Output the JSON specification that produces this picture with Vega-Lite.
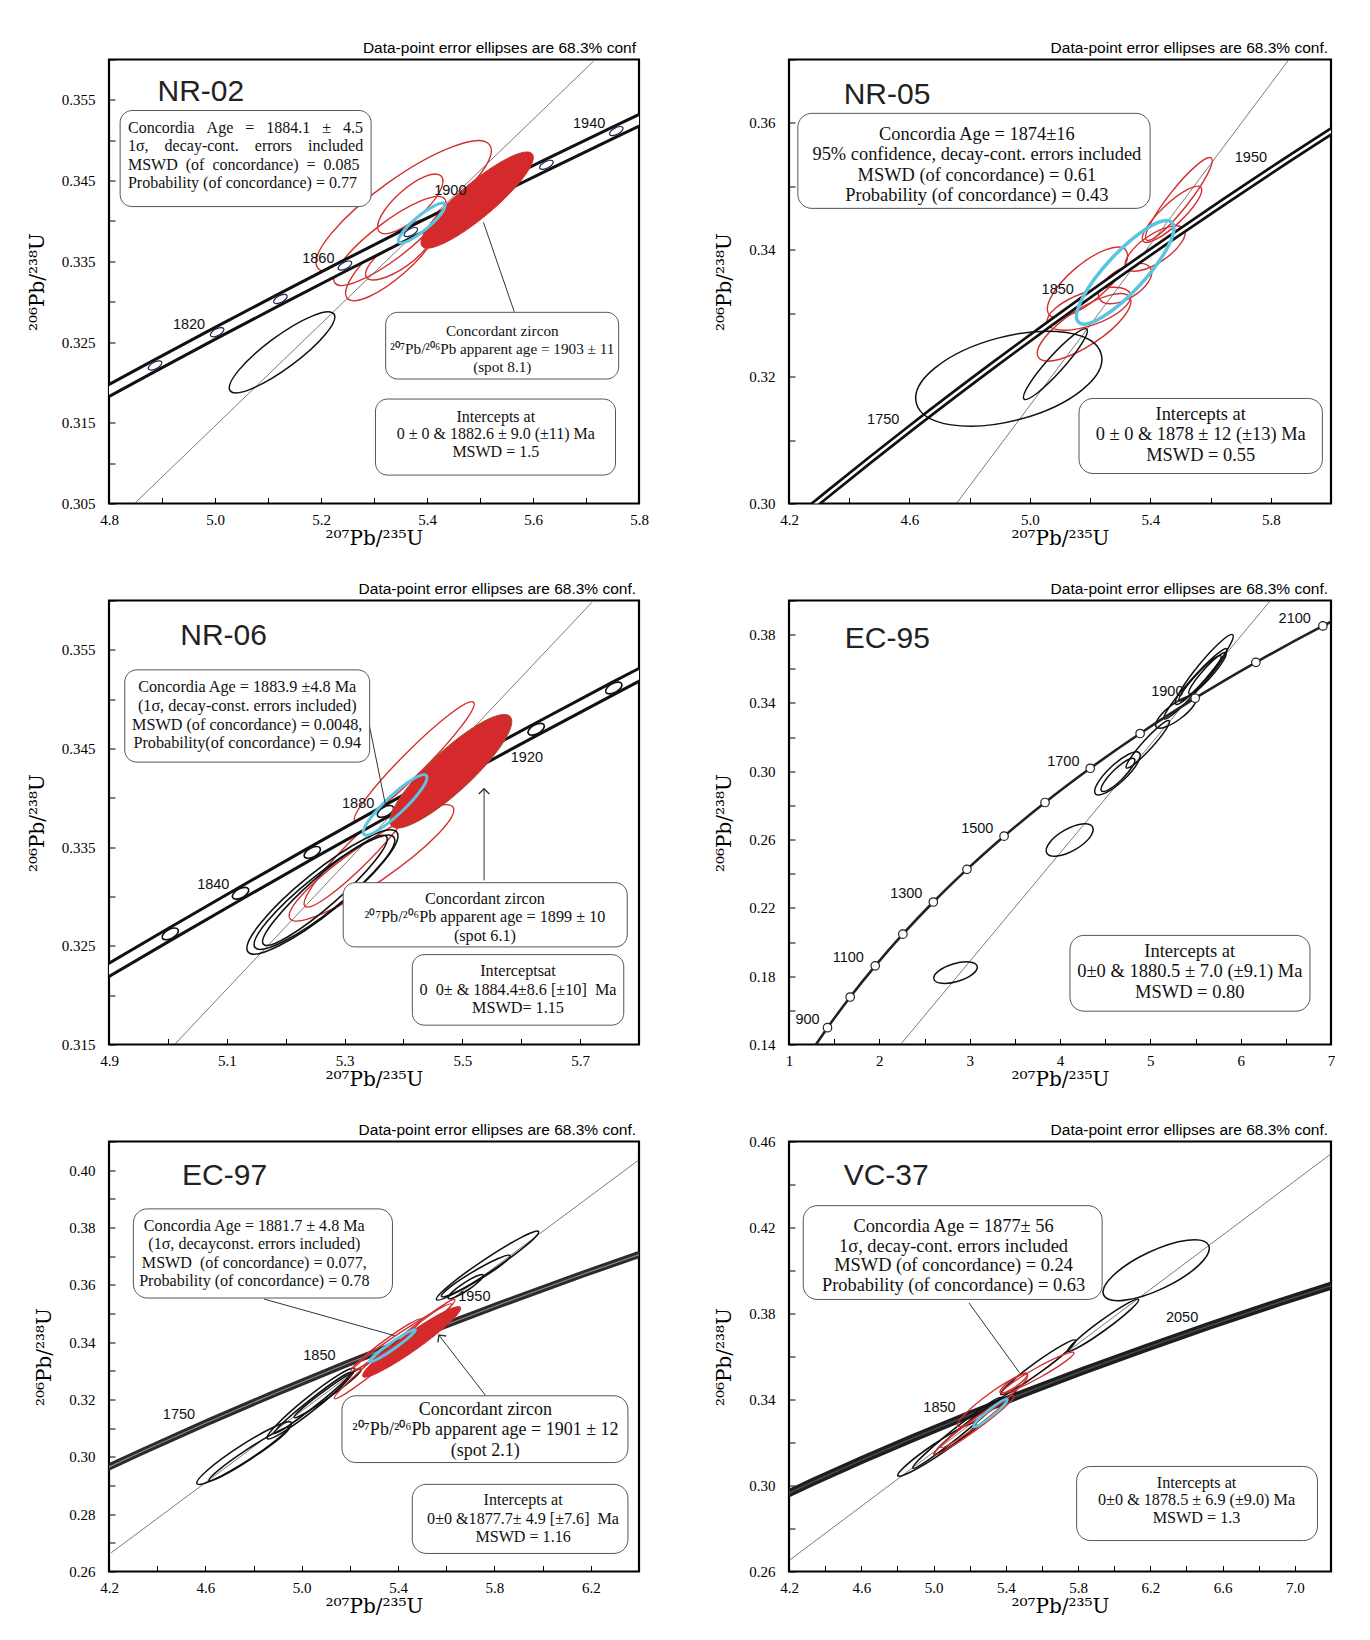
{
"$schema": "https://vega.github.io/schema/vega-lite/v6.json",
"background": "white",
"padding": {"left": 26, "top": 39.5, "right": 5, "bottom": 5},
"config": {
 "view": {"stroke": "#000", "strokeWidth": 2.2, "fill": "white"},
 "axis": {"grid": false, "domain": false, "ticks": true, "tickSize": -6, "tickColor": "#000", "tickWidth": 1, "labelFont": "Liberation Serif", "labelFontSize": 15, "labelColor": "#000", "labelOverlap": false, "labelFlush": false, "titleFont": "DejaVu Serif", "titleFontSize": 20, "titleFontWeight": "normal", "titleColor": "#000"},
 "axisX": {"labelPadding": 15, "titlePadding": 1},
 "axisY": {"labelPadding": 20, "titlePadding": 14},
 "title": {"anchor": "end", "frame": "group", "font": "Liberation Sans", "fontSize": 15.5, "fontWeight": "normal", "color": "#000", "offset": -4, "baseline": "bottom", "dx": -3}
},
"datasets": {
 "disc": [
  {"p":"NR-02","x":4.8482,"y":0.305},{"p":"NR-02","x":5.7143,"y":0.3598},
  {"p":"NR-05","x":4.7561,"y":0.30},{"p":"NR-05","x":5.8594,"y":0.36994},
  {"p":"NR-06","x":5.0113,"y":0.315},{"p":"NR-06","x":5.7202,"y":0.35982},
  {"p":"EC-95","x":2.2343,"y":0.14},{"p":"EC-95","x":6.330,"y":0.40},
  {"p":"EC-97","x":4.2092,"y":0.26653},{"p":"EC-97","x":6.402,"y":0.40376},
  {"p":"VC-37","x":4.2055,"y":0.26543},{"p":"VC-37","x":7.1978,"y":0.45411}
 ],
 "conc": [
  {"p":"NR-02","t":1780,"x":4.7721,"y":0.31801},{"p":"NR-02","t":1800,"x":4.8869,"y":0.32210},{"p":"NR-02","t":1820,"x":5.0040,"y":0.32621},{"p":"NR-02","t":1840,"x":5.1234,"y":0.33033},{"p":"NR-02","t":1860,"x":5.2452,"y":0.33447},{"p":"NR-02","t":1880,"x":5.3695,"y":0.33862},{"p":"NR-02","t":1900,"x":5.4962,"y":0.34277},{"p":"NR-02","t":1920,"x":5.6254,"y":0.34695},{"p":"NR-02","t":1940,"x":5.7572,"y":0.35113},{"p":"NR-02","t":1960,"x":5.8916,"y":0.35533},
  {"p":"NR-06","t":1780,"x":4.7721,"y":0.31801},{"p":"NR-06","t":1800,"x":4.8869,"y":0.32210},{"p":"NR-06","t":1820,"x":5.0040,"y":0.32621},{"p":"NR-06","t":1840,"x":5.1234,"y":0.33033},{"p":"NR-06","t":1860,"x":5.2452,"y":0.33447},{"p":"NR-06","t":1880,"x":5.3695,"y":0.33862},{"p":"NR-06","t":1900,"x":5.4962,"y":0.34277},{"p":"NR-06","t":1920,"x":5.6254,"y":0.34695},{"p":"NR-06","t":1940,"x":5.7572,"y":0.35113},{"p":"NR-06","t":1960,"x":5.8916,"y":0.35533},
  {"p":"NR-05","t":1650,"x":4.0784,"y":0.29170},{"p":"NR-05","t":1700,"x":4.3348,"y":0.30175},{"p":"NR-05","t":1750,"x":4.6040,"y":0.31189},{"p":"NR-05","t":1800,"x":4.8869,"y":0.32210},{"p":"NR-05","t":1850,"x":5.1840,"y":0.33240},{"p":"NR-05","t":1900,"x":5.4962,"y":0.34277},{"p":"NR-05","t":1950,"x":5.8241,"y":0.35323},{"p":"NR-05","t":2000,"x":6.1685,"y":0.36377},
  {"p":"EC-95","t":800,"x":1.1987,"y":0.13213},{"p":"EC-95","t":900,"x":1.4263,"y":0.14983},{"p":"EC-95","t":1000,"x":1.6774,"y":0.16780},{"p":"EC-95","t":1100,"x":1.9545,"y":0.18606},{"p":"EC-95","t":1200,"x":2.2603,"y":0.20460},{"p":"EC-95","t":1300,"x":2.5977,"y":0.22343},{"p":"EC-95","t":1400,"x":2.9701,"y":0.24256},{"p":"EC-95","t":1500,"x":3.3810,"y":0.26199},{"p":"EC-95","t":1600,"x":3.8344,"y":0.28172},{"p":"EC-95","t":1700,"x":4.3348,"y":0.30175},{"p":"EC-95","t":1800,"x":4.8869,"y":0.32210},{"p":"EC-95","t":1900,"x":5.4962,"y":0.34277},{"p":"EC-95","t":2000,"x":6.1685,"y":0.36377},{"p":"EC-95","t":2100,"x":6.9104,"y":0.38509},{"p":"EC-95","t":2150,"x":7.3097,"y":0.39587},
  {"p":"EC-97","t":1650,"x":4.0784,"y":0.29170},{"p":"EC-97","t":1700,"x":4.3348,"y":0.30175},{"p":"EC-97","t":1750,"x":4.6040,"y":0.31189},{"p":"EC-97","t":1800,"x":4.8869,"y":0.32210},{"p":"EC-97","t":1850,"x":5.1840,"y":0.33240},{"p":"EC-97","t":1900,"x":5.4962,"y":0.34277},{"p":"EC-97","t":1950,"x":5.8241,"y":0.35323},{"p":"EC-97","t":2000,"x":6.1685,"y":0.36377},{"p":"EC-97","t":2050,"x":6.5304,"y":0.37438},
  {"p":"VC-37","t":1650,"x":4.0784,"y":0.29170},{"p":"VC-37","t":1700,"x":4.3348,"y":0.30175},{"p":"VC-37","t":1750,"x":4.6040,"y":0.31189},{"p":"VC-37","t":1800,"x":4.8869,"y":0.32210},{"p":"VC-37","t":1850,"x":5.1840,"y":0.33240},{"p":"VC-37","t":1900,"x":5.4962,"y":0.34277},{"p":"VC-37","t":1950,"x":5.8241,"y":0.35323},{"p":"VC-37","t":2000,"x":6.1685,"y":0.36377},{"p":"VC-37","t":2050,"x":6.5304,"y":0.37438},{"p":"VC-37","t":2100,"x":6.9104,"y":0.38509},{"p":"VC-37","t":2150,"x":7.3097,"y":0.39587}
 ],
 "ell": [
  {"p":"NR-02","e":"a1","k":"b","i":0,"x":5.0286,"y":0.31897},{"p":"NR-02","e":"a1","k":"b","i":1,"x":5.1444,"y":0.32213},{"p":"NR-02","e":"a1","k":"b","i":2,"x":5.2244,"y":0.32847},{"p":"NR-02","e":"a1","k":"b","i":3,"x":5.1086,"y":0.32532},
  {"p":"NR-02","e":"a2","k":"r","i":0,"x":5.1937,"y":0.33418},{"p":"NR-02","e":"a2","k":"r","i":1,"x":5.3869,"y":0.33894},{"p":"NR-02","e":"a2","k":"r","i":2,"x":5.5182,"y":0.34942},{"p":"NR-02","e":"a2","k":"r","i":3,"x":5.3249,"y":0.34466},
  {"p":"NR-02","e":"a3","k":"r","i":0,"x":5.3098,"y":0.33868},{"p":"NR-02","e":"a3","k":"r","i":1,"x":5.3872,"y":0.34072},{"p":"NR-02","e":"a3","k":"r","i":2,"x":5.4272,"y":0.34554},{"p":"NR-02","e":"a3","k":"r","i":3,"x":5.3497,"y":0.34350},
  {"p":"NR-02","e":"a4","k":"r","i":0,"x":5.2263,"y":0.33232},{"p":"NR-02","e":"a4","k":"r","i":1,"x":5.3508,"y":0.33572},{"p":"NR-02","e":"a4","k":"r","i":2,"x":5.4334,"y":0.34273},{"p":"NR-02","e":"a4","k":"r","i":3,"x":5.3089,"y":0.33933},
  {"p":"NR-02","e":"a5","k":"r","i":0,"x":5.2495,"y":0.33042},{"p":"NR-02","e":"a5","k":"r","i":1,"x":5.3563,"y":0.33351},{"p":"NR-02","e":"a5","k":"r","i":2,"x":5.4178,"y":0.34004},{"p":"NR-02","e":"a5","k":"r","i":3,"x":5.3110,"y":0.33694},
  {"p":"NR-02","e":"a6","k":"r","i":0,"x":5.2859,"y":0.33302},{"p":"NR-02","e":"a6","k":"r","i":1,"x":5.3598,"y":0.33434},{"p":"NR-02","e":"a6","k":"r","i":2,"x":5.4052,"y":0.33839},{"p":"NR-02","e":"a6","k":"r","i":3,"x":5.3314,"y":0.33707},
  {"p":"NR-02","e":"a7","k":"c","i":0,"x":5.3468,"y":0.33736},{"p":"NR-02","e":"a7","k":"c","i":1,"x":5.3990,"y":0.33904},{"p":"NR-02","e":"a7","k":"c","i":2,"x":5.4334,"y":0.34211},{"p":"NR-02","e":"a7","k":"c","i":3,"x":5.3813,"y":0.34043},
  {"p":"NR-02","e":"a8","k":"f","i":0,"x":5.3908,"y":0.33686},{"p":"NR-02","e":"a8","k":"f","i":1,"x":5.5156,"y":0.34094},{"p":"NR-02","e":"a8","k":"f","i":2,"x":5.5985,"y":0.34831},{"p":"NR-02","e":"a8","k":"f","i":3,"x":5.4737,"y":0.34423},

  {"p":"NR-05","e":"b1","k":"b","i":0,"x":4.6231,"y":0.31579},{"p":"NR-05","e":"b1","k":"b","i":1,"x":4.9664,"y":0.31327},{"p":"NR-05","e":"b1","k":"b","i":2,"x":5.2368,"y":0.32355},{"p":"NR-05","e":"b1","k":"b","i":3,"x":4.8935,"y":0.32607},
  {"p":"NR-05","e":"b2","k":"b","i":0,"x":4.9806,"y":0.31646},{"p":"NR-05","e":"b2","k":"b","i":1,"x":5.1056,"y":0.32111},{"p":"NR-05","e":"b2","k":"b","i":2,"x":5.1890,"y":0.32750},{"p":"NR-05","e":"b2","k":"b","i":3,"x":5.0640,"y":0.32285},
  {"p":"NR-05","e":"b3","k":"r","i":0,"x":5.3873,"y":0.34154},{"p":"NR-05","e":"b3","k":"r","i":1,"x":5.5211,"y":0.34703},{"p":"NR-05","e":"b3","k":"r","i":2,"x":5.6023,"y":0.35447},{"p":"NR-05","e":"b3","k":"r","i":3,"x":5.4685,"y":0.34898},
  {"p":"NR-05","e":"b4","k":"r","i":0,"x":5.3761,"y":0.34133},{"p":"NR-05","e":"b4","k":"r","i":1,"x":5.4963,"y":0.34436},{"p":"NR-05","e":"b4","k":"r","i":2,"x":5.5677,"y":0.34985},{"p":"NR-05","e":"b4","k":"r","i":3,"x":5.4475,"y":0.34681},
  {"p":"NR-05","e":"b5","k":"r","i":0,"x":5.3204,"y":0.33712},{"p":"NR-05","e":"b5","k":"r","i":1,"x":5.4425,"y":0.33837},{"p":"NR-05","e":"b5","k":"r","i":2,"x":5.5120,"y":0.34327},{"p":"NR-05","e":"b5","k":"r","i":3,"x":5.3899,"y":0.34202},
  {"p":"NR-05","e":"b6","k":"r","i":0,"x":5.0642,"y":0.32976},{"p":"NR-05","e":"b6","k":"r","i":1,"x":5.2308,"y":0.33266},{"p":"NR-05","e":"b6","k":"r","i":2,"x":5.3182,"y":0.33996},{"p":"NR-05","e":"b6","k":"r","i":3,"x":5.1515,"y":0.33707},
  {"p":"NR-05","e":"b7","k":"r","i":0,"x":5.2313,"y":0.33223},{"p":"NR-05","e":"b7","k":"r","i":1,"x":5.3421,"y":0.33266},{"p":"NR-05","e":"b7","k":"r","i":2,"x":5.4006,"y":0.33712},{"p":"NR-05","e":"b7","k":"r","i":3,"x":5.2898,"y":0.33670},
  {"p":"NR-05","e":"b8","k":"r","i":0,"x":5.0586,"y":0.32840},{"p":"NR-05","e":"b8","k":"r","i":1,"x":5.2149,"y":0.32823},{"p":"NR-05","e":"b8","k":"r","i":2,"x":5.3338,"y":0.33302},{"p":"NR-05","e":"b8","k":"r","i":3,"x":5.1775,"y":0.33319},
  {"p":"NR-05","e":"b9","k":"r","i":0,"x":5.0285,"y":0.32303},{"p":"NR-05","e":"b9","k":"r","i":1,"x":5.2138,"y":0.32535},{"p":"NR-05","e":"b9","k":"r","i":2,"x":5.3315,"y":0.33250},{"p":"NR-05","e":"b9","k":"r","i":3,"x":5.1463,"y":0.33018},
  {"p":"NR-05","e":"b10","k":"c","i":0,"x":5.1622,"y":0.32855},{"p":"NR-05","e":"b10","k":"c","i":1,"x":5.3640,"y":0.33437},{"p":"NR-05","e":"b10","k":"c","i":2,"x":5.4708,"y":0.34433},{"p":"NR-05","e":"b10","k":"c","i":3,"x":5.2691,"y":0.33851},

  {"p":"NR-06","e":"c1","k":"r","i":0,"x":5.3175,"y":0.33765},{"p":"NR-06","e":"c1","k":"r","i":1,"x":5.4323,"y":0.34284},{"p":"NR-06","e":"c1","k":"r","i":2,"x":5.5191,"y":0.34969},{"p":"NR-06","e":"c1","k":"r","i":3,"x":5.4044,"y":0.34450},
  {"p":"NR-06","e":"c2","k":"r","i":0,"x":5.2074,"y":0.32776},{"p":"NR-06","e":"c2","k":"r","i":1,"x":5.3649,"y":0.33174},{"p":"NR-06","e":"c2","k":"r","i":2,"x":5.4841,"y":0.33906},{"p":"NR-06","e":"c2","k":"r","i":3,"x":5.3266,"y":0.33508},
  {"p":"NR-06","e":"c3","k":"r","i":0,"x":5.2328,"y":0.32901},{"p":"NR-06","e":"c3","k":"r","i":1,"x":5.3406,"y":0.33359},{"p":"NR-06","e":"c3","k":"r","i":2,"x":5.4163,"y":0.34008},{"p":"NR-06","e":"c3","k":"r","i":3,"x":5.3085,"y":0.33549},
  {"p":"NR-06","e":"c4","k":"b","i":0,"x":5.1362,"y":0.32438},{"p":"NR-06","e":"c4","k":"b","i":1,"x":5.2844,"y":0.32883},{"p":"NR-06","e":"c4","k":"b","i":2,"x":5.3887,"y":0.33653},{"p":"NR-06","e":"c4","k":"b","i":3,"x":5.2405,"y":0.33209},
  {"p":"NR-06","e":"c5","k":"b","i":0,"x":5.1481,"y":0.32482},{"p":"NR-06","e":"c5","k":"b","i":1,"x":5.2852,"y":0.32897},{"p":"NR-06","e":"c5","k":"b","i":2,"x":5.3836,"y":0.33603},{"p":"NR-06","e":"c5","k":"b","i":3,"x":5.2464,"y":0.33187},
  {"p":"NR-06","e":"c6","k":"b","i":0,"x":5.1622,"y":0.32516},{"p":"NR-06","e":"c6","k":"b","i":1,"x":5.2834,"y":0.32948},{"p":"NR-06","e":"c6","k":"b","i":2,"x":5.3711,"y":0.33609},{"p":"NR-06","e":"c6","k":"b","i":3,"x":5.2499,"y":0.33177},
  {"p":"NR-06","e":"c7","k":"f","i":0,"x":5.3796,"y":0.33714},{"p":"NR-06","e":"c7","k":"f","i":1,"x":5.5042,"y":0.34115},{"p":"NR-06","e":"c7","k":"f","i":2,"x":5.5812,"y":0.34824},{"p":"NR-06","e":"c7","k":"f","i":3,"x":5.4567,"y":0.34423},
  {"p":"NR-06","e":"c8","k":"c","i":0,"x":5.3327,"y":0.33630},{"p":"NR-06","e":"c8","k":"c","i":1,"x":5.3967,"y":0.33859},{"p":"NR-06","e":"c8","k":"c","i":2,"x":5.4389,"y":0.34227},{"p":"NR-06","e":"c8","k":"c","i":3,"x":5.3750,"y":0.33997},

  {"p":"EC-95","e":"d1","k":"b","i":0,"x":2.604,"y":0.1783},{"p":"EC-95","e":"d1","k":"b","i":1,"x":2.872,"y":0.1770},{"p":"EC-95","e":"d1","k":"b","i":2,"x":3.083,"y":0.1859},{"p":"EC-95","e":"d1","k":"b","i":3,"x":2.816,"y":0.1871},
  {"p":"EC-95","e":"d2","k":"b","i":0,"x":3.854,"y":0.2521},{"p":"EC-95","e":"d2","k":"b","i":1,"x":4.167,"y":0.2541},{"p":"EC-95","e":"d2","k":"b","i":2,"x":4.360,"y":0.2674},{"p":"EC-95","e":"d2","k":"b","i":3,"x":4.048,"y":0.2654},
  {"p":"EC-95","e":"d3","k":"b","i":0,"x":4.3935,"y":0.28674},{"p":"EC-95","e":"d3","k":"b","i":1,"x":4.7030,"y":0.29488},{"p":"EC-95","e":"d3","k":"b","i":2,"x":4.8780,"y":0.31077},{"p":"EC-95","e":"d3","k":"b","i":3,"x":4.5686,"y":0.30262},
  {"p":"EC-95","e":"d4","k":"b","i":0,"x":5.2821,"y":0.33932},{"p":"EC-95","e":"d4","k":"b","i":1,"x":5.6570,"y":0.35702},{"p":"EC-95","e":"d4","k":"b","i":2,"x":5.9130,"y":0.37995},{"p":"EC-95","e":"d4","k":"b","i":3,"x":5.5381,"y":0.36224},
  {"p":"EC-95","e":"d5","k":"b","i":0,"x":5.1533,"y":0.33070},{"p":"EC-95","e":"d5","k":"b","i":1,"x":5.5492,"y":0.34888},{"p":"EC-95","e":"d5","k":"b","i":2,"x":5.8469,"y":0.37174},{"p":"EC-95","e":"d5","k":"b","i":3,"x":5.4510,"y":0.35357},
  {"p":"EC-95","e":"d6","k":"b","i":0,"x":5.3184,"y":0.34126},{"p":"EC-95","e":"d6","k":"b","i":1,"x":5.5898,"y":0.35245},{"p":"EC-95","e":"d6","k":"b","i":2,"x":5.7809,"y":0.36764},{"p":"EC-95","e":"d6","k":"b","i":3,"x":5.5094,"y":0.35644},
  {"p":"EC-95","e":"d7","k":"b","i":0,"x":5.0652,"y":0.32601},{"p":"EC-95","e":"d7","k":"b","i":1,"x":5.3383,"y":0.33105},{"p":"EC-95","e":"d7","k":"b","i":2,"x":5.5056,"y":0.34360},{"p":"EC-95","e":"d7","k":"b","i":3,"x":5.2326,"y":0.33856},
  {"p":"EC-95","e":"d8","k":"b","i":0,"x":4.7349,"y":0.30198},{"p":"EC-95","e":"d8","k":"b","i":1,"x":5.0122,"y":0.31377},{"p":"EC-95","e":"d8","k":"b","i":2,"x":5.2083,"y":0.32953},{"p":"EC-95","e":"d8","k":"b","i":3,"x":4.9310,"y":0.31774},
  {"p":"EC-95","e":"d9","k":"b","i":0,"x":5.4285,"y":0.34536},{"p":"EC-95","e":"d9","k":"b","i":1,"x":5.6731,"y":0.35541},{"p":"EC-95","e":"d9","k":"b","i":2,"x":5.8359,"y":0.36940},{"p":"EC-95","e":"d9","k":"b","i":3,"x":5.5914,"y":0.35934},
  {"p":"EC-95","e":"d10","k":"b","i":0,"x":4.4596,"y":0.28849},{"p":"EC-95","e":"d10","k":"b","i":1,"x":4.6871,"y":0.29535},{"p":"EC-95","e":"d10","k":"b","i":2,"x":4.8230,"y":0.30725},{"p":"EC-95","e":"d10","k":"b","i":3,"x":4.5953,"y":0.30040},

  {"p":"EC-97","e":"f1","k":"b","i":0,"x":5.5593,"y":0.35483},{"p":"EC-97","e":"f1","k":"b","i":1,"x":5.7865,"y":0.36477},{"p":"EC-97","e":"f1","k":"b","i":2,"x":5.9828,"y":0.37859},{"p":"EC-97","e":"f1","k":"b","i":3,"x":5.7556,"y":0.36864},
  {"p":"EC-97","e":"f2","k":"b","i":0,"x":5.5802,"y":0.35599},{"p":"EC-97","e":"f2","k":"b","i":1,"x":5.7331,"y":0.36159},{"p":"EC-97","e":"f2","k":"b","i":2,"x":5.8648,"y":0.37020},{"p":"EC-97","e":"f2","k":"b","i":3,"x":5.7118,"y":0.36460},
  {"p":"EC-97","e":"f3","k":"b","i":0,"x":5.6079,"y":0.35529},{"p":"EC-97","e":"f3","k":"b","i":1,"x":5.6901,"y":0.35820},{"p":"EC-97","e":"f3","k":"b","i":2,"x":5.7537,"y":0.36345},{"p":"EC-97","e":"f3","k":"b","i":3,"x":5.6715,"y":0.36053},
  {"p":"EC-97","e":"f4","k":"b","i":0,"x":4.5653,"y":0.29064},{"p":"EC-97","e":"f4","k":"b","i":1,"x":4.7792,"y":0.29896},{"p":"EC-97","e":"f4","k":"b","i":2,"x":4.9568,"y":0.31196},{"p":"EC-97","e":"f4","k":"b","i":3,"x":4.7429,"y":0.30364},
  {"p":"EC-97","e":"f5","k":"b","i":0,"x":4.6153,"y":0.29169},{"p":"EC-97","e":"f5","k":"b","i":1,"x":4.7934,"y":0.29950},{"p":"EC-97","e":"f5","k":"b","i":2,"x":4.9485,"y":0.31021},{"p":"EC-97","e":"f5","k":"b","i":3,"x":4.7704,"y":0.30241},
  {"p":"EC-97","e":"f6","k":"b","i":0,"x":4.8568,"y":0.30637},{"p":"EC-97","e":"f6","k":"b","i":1,"x":5.0563,"y":0.31669},{"p":"EC-97","e":"f6","k":"b","i":2,"x":5.2192,"y":0.33083},{"p":"EC-97","e":"f6","k":"b","i":3,"x":5.0197,"y":0.32051},
  {"p":"EC-97","e":"f7","k":"b","i":0,"x":4.8860,"y":0.30823},{"p":"EC-97","e":"f7","k":"b","i":1,"x":5.0561,"y":0.31774},{"p":"EC-97","e":"f7","k":"b","i":2,"x":5.2053,"y":0.32943},{"p":"EC-97","e":"f7","k":"b","i":3,"x":5.0354,"y":0.31993},
  {"p":"EC-97","e":"f8","k":"b","i":0,"x":4.9693,"y":0.31371},{"p":"EC-97","e":"f8","k":"b","i":1,"x":5.1178,"y":0.32102},{"p":"EC-97","e":"f8","k":"b","i":2,"x":5.2470,"y":0.33060},{"p":"EC-97","e":"f8","k":"b","i":3,"x":5.0984,"y":0.32328},
  {"p":"EC-97","e":"f9","k":"r","i":0,"x":5.1359,"y":0.32035},{"p":"EC-97","e":"f9","k":"r","i":1,"x":5.4016,"y":0.33597},{"p":"EC-97","e":"f9","k":"r","i":2,"x":5.6357,"y":0.35483},{"p":"EC-97","e":"f9","k":"r","i":3,"x":5.3700,"y":0.33921},
  {"p":"EC-97","e":"f10","k":"r","i":0,"x":5.2164,"y":0.33060},{"p":"EC-97","e":"f10","k":"r","i":1,"x":5.4299,"y":0.34060},{"p":"EC-97","e":"f10","k":"r","i":2,"x":5.6218,"y":0.35331},{"p":"EC-97","e":"f10","k":"r","i":3,"x":5.4083,"y":0.34331},
  {"p":"EC-97","e":"f11","k":"r","i":0,"x":5.2053,"y":0.33002},{"p":"EC-97","e":"f11","k":"r","i":1,"x":5.3626,"y":0.33773},{"p":"EC-97","e":"f11","k":"r","i":2,"x":5.4969,"y":0.34807},{"p":"EC-97","e":"f11","k":"r","i":3,"x":5.3396,"y":0.34036},
  {"p":"EC-97","e":"f12","k":"f","i":0,"x":5.2539,"y":0.32804},{"p":"EC-97","e":"f12","k":"f","i":1,"x":5.4774,"y":0.33762},{"p":"EC-97","e":"f12","k":"f","i":2,"x":5.6593,"y":0.35215},{"p":"EC-97","e":"f12","k":"f","i":3,"x":5.4358,"y":0.34256},
  {"p":"EC-97","e":"f13","k":"c","i":0,"x":5.2817,"y":0.33316},{"p":"EC-97","e":"f13","k":"c","i":1,"x":5.3847,"y":0.33780},{"p":"EC-97","e":"f13","k":"c","i":2,"x":5.4719,"y":0.34434},{"p":"EC-97","e":"f13","k":"c","i":3,"x":5.3689,"y":0.33971},

  {"p":"VC-37","e":"g1","k":"b","i":0,"x":5.9420,"y":0.38854},{"p":"VC-37","e":"g1","k":"b","i":1,"x":6.2781,"y":0.39204},{"p":"VC-37","e":"g1","k":"b","i":2,"x":6.5226,"y":0.41174},{"p":"VC-37","e":"g1","k":"b","i":3,"x":6.1865,"y":0.40825},
  {"p":"VC-37","e":"g2","k":"b","i":0,"x":5.7435,"y":0.36256},{"p":"VC-37","e":"g2","k":"b","i":1,"x":5.9554,"y":0.37267},{"p":"VC-37","e":"g2","k":"b","i":2,"x":6.1349,"y":0.38653},{"p":"VC-37","e":"g2","k":"b","i":3,"x":5.9230,"y":0.37641},
  {"p":"VC-37","e":"g3","k":"b","i":0,"x":5.3723,"y":0.34245},{"p":"VC-37","e":"g3","k":"b","i":1,"x":5.5963,"y":0.35297},{"p":"VC-37","e":"g3","k":"b","i":2,"x":5.7858,"y":0.36751},{"p":"VC-37","e":"g3","k":"b","i":3,"x":5.5620,"y":0.35699},
  {"p":"VC-37","e":"g4","k":"b","i":0,"x":4.8027,"y":0.30455},{"p":"VC-37","e":"g4","k":"b","i":1,"x":5.0370,"y":0.31447},{"p":"VC-37","e":"g4","k":"b","i":2,"x":5.2345,"y":0.32899},{"p":"VC-37","e":"g4","k":"b","i":3,"x":5.0002,"y":0.31907},
  {"p":"VC-37","e":"g5","k":"b","i":0,"x":4.8854,"y":0.30811},{"p":"VC-37","e":"g5","k":"b","i":1,"x":5.1448,"y":0.32282},{"p":"VC-37","e":"g5","k":"b","i":2,"x":5.3723,"y":0.34090},{"p":"VC-37","e":"g5","k":"b","i":3,"x":5.1129,"y":0.32619},
  {"p":"VC-37","e":"g6","k":"b","i":0,"x":5.0048,"y":0.31461},{"p":"VC-37","e":"g6","k":"b","i":1,"x":5.2468,"y":0.32746},{"p":"VC-37","e":"g6","k":"b","i":2,"x":5.4550,"y":0.34399},{"p":"VC-37","e":"g6","k":"b","i":3,"x":5.2130,"y":0.33114},
  {"p":"VC-37","e":"g7","k":"r","i":0,"x":5.3815,"y":0.34322},{"p":"VC-37","e":"g7","k":"r","i":1,"x":5.5925,"y":0.35047},{"p":"VC-37","e":"g7","k":"r","i":2,"x":5.7766,"y":0.36178},{"p":"VC-37","e":"g7","k":"r","i":3,"x":5.5656,"y":0.35453},
  {"p":"VC-37","e":"g8","k":"r","i":0,"x":5.3687,"y":0.34322},{"p":"VC-37","e":"g8","k":"r","i":1,"x":5.4567,"y":0.34610},{"p":"VC-37","e":"g8","k":"r","i":2,"x":5.5193,"y":0.35204},{"p":"VC-37","e":"g8","k":"r","i":3,"x":5.4315,"y":0.34914},
  {"p":"VC-37","e":"g9","k":"r","i":0,"x":5.1334,"y":0.32775},{"p":"VC-37","e":"g9","k":"r","i":1,"x":5.3503,"y":0.33683},{"p":"VC-37","e":"g9","k":"r","i":2,"x":5.5193,"y":0.35142},{"p":"VC-37","e":"g9","k":"r","i":3,"x":5.3025,"y":0.34234},
  {"p":"VC-37","e":"g10","k":"r","i":0,"x":5.0011,"y":0.31430},{"p":"VC-37","e":"g10","k":"r","i":1,"x":5.2398,"y":0.32611},{"p":"VC-37","e":"g10","k":"r","i":2,"x":5.4458,"y":0.34167},{"p":"VC-37","e":"g10","k":"r","i":3,"x":5.2071,"y":0.32986},
  {"p":"VC-37","e":"g11","k":"r","i":0,"x":5.0416,"y":0.31770},{"p":"VC-37","e":"g11","k":"r","i":1,"x":5.2292,"y":0.32687},{"p":"VC-37","e":"g11","k":"r","i":2,"x":5.3907,"y":0.33904},{"p":"VC-37","e":"g11","k":"r","i":3,"x":5.2033,"y":0.32987},
  {"p":"VC-37","e":"g12","k":"c","i":0,"x":5.2216,"y":0.32729},{"p":"VC-37","e":"g12","k":"c","i":1,"x":5.3269,"y":0.33250},{"p":"VC-37","e":"g12","k":"c","i":2,"x":5.4091,"y":0.34013},{"p":"VC-37","e":"g12","k":"c","i":3,"x":5.3038,"y":0.33491}
 ],
 "alab": [
  {"p":"NR-02","t":"1820","x":4.951,"y":0.32715},{"p":"NR-02","t":"1860","x":5.195,"y":0.3353},{"p":"NR-02","t":"1900","x":5.444,"y":0.34376},{"p":"NR-02","t":"1940","x":5.706,"y":0.35203},
  {"p":"NR-05","t":"1950","x":5.734,"y":0.35442},{"p":"NR-05","t":"1850","x":5.0924,"y":0.33366},{"p":"NR-05","t":"1750","x":4.5128,"y":0.31315},
  {"p":"NR-06","t":"1840","x":5.0771,"y":0.33114},{"p":"NR-06","t":"1880","x":5.3231,"y":0.33940},{"p":"NR-06","t":"1920","x":5.6096,"y":0.34403},
  {"p":"EC-95","t":"900","x":1.205,"y":0.1541},{"p":"EC-95","t":"1100","x":1.656,"y":0.1904},{"p":"EC-95","t":"1300","x":2.298,"y":0.2279},{"p":"EC-95","t":"1500","x":3.084,"y":0.2660},{"p":"EC-95","t":"1700","x":4.037,"y":0.3057},{"p":"EC-95","t":"1900","x":5.188,"y":0.3467},{"p":"EC-95","t":"2100","x":6.598,"y":0.3892},
  {"p":"EC-97","t":"1750","x":4.4903,"y":0.31451},{"p":"EC-97","t":"1850","x":5.0734,"y":0.33502},{"p":"EC-97","t":"1950","x":5.7165,"y":0.35589},
  {"p":"VC-37","t":"1850","x":5.033,"y":0.33624},{"p":"VC-37","t":"2050","x":6.3759,"y":0.3780}
 ],
 "plab": [
  {"p":"NR-02","n":"NR-02","x":4.8915,"y":0.35595},{"p":"NR-05","n":"NR-05","x":4.3815,"y":0.36443},{"p":"NR-06","n":"NR-06","x":5.021,"y":0.35641},
  {"p":"EC-95","n":"EC-95","x":1.6177,"y":0.37743},{"p":"EC-97","n":"EC-97","x":4.5032,"y":0.39803},{"p":"VC-37","n":"VC-37","x":4.5026,"y":0.44413}
 ],
 "boxes": [
  {"p":"NR-02","b":"a","x":4.821,"x2":5.2945,"y":0.35368,"y2":0.34178},{"p":"NR-02","b":"z","x":5.322,"x2":5.7616,"y":0.32868,"y2":0.32042},{"p":"NR-02","b":"i","x":5.3028,"x2":5.7557,"y":0.31794,"y2":0.30852},
  {"p":"NR-05","b":"a","x":4.2294,"x2":5.3992,"y":0.36151,"y2":0.34653},{"p":"NR-05","b":"i","x":5.1632,"x2":5.9714,"y":0.31656,"y2":0.30473},
  {"p":"NR-06","b":"a","x":4.9268,"x2":5.3426,"y":0.35297,"y2":0.34362},{"p":"NR-06","b":"z","x":5.2977,"x2":5.78,"y":0.3314,"y2":0.32489},{"p":"NR-06","b":"i","x":5.4151,"x2":5.7741,"y":0.32411,"y2":0.31696},
  {"p":"EC-95","b":"i","x":4.1105,"x2":6.7674,"y":0.2039,"y2":0.1595},
  {"p":"EC-97","b":"a","x":4.3012,"x2":5.3766,"y":0.3865,"y2":0.3554},{"p":"EC-97","b":"z","x":5.1671,"x2":6.3541,"y":0.3213,"y2":0.298},{"p":"EC-97","b":"i","x":5.459,"x2":6.3541,"y":0.2904,"y2":0.2663},
  {"p":"VC-37","b":"a","x":4.2788,"x2":5.9332,"y":0.43016,"y2":0.38654},{"p":"VC-37","b":"i","x":5.7921,"x2":7.125,"y":0.30886,"y2":0.27439}
 ],
 "notes": [
  {"p":"NR-02","b":"a","x":4.8358,"y":0.35095,"lines":["Concordia\u00a0\u00a0\u00a0Age\u00a0\u00a0\u00a0=\u00a0\u00a0\u00a01884.1\u00a0\u00a0\u00a0±\u00a0\u00a0\u00a04.5","1σ,\u00a0\u00a0\u00a0\u00a0decay-cont.\u00a0\u00a0\u00a0\u00a0errors\u00a0\u00a0\u00a0\u00a0included","MSWD\u00a0\u00a0(of\u00a0\u00a0concordance)\u00a0\u00a0=\u00a0\u00a00.085","Probability (of concordance) = 0.77"]},
  {"p":"NR-02","b":"z","x":5.542,"y":0.32575,"lines":["Concordant zircon","²⁰⁷Pb/²⁰⁶Pb apparent age = 1903 ± 11","(spot 8.1)"]},
  {"p":"NR-02","b":"i","x":5.5298,"y":0.31513,"lines":["Intercepts at","0 ± 0 & 1882.6 ± 9.0 (±11) Ma","MSWD = 1.5"]},
  {"p":"NR-05","b":"a","x":4.824,"y":0.35730,"lines":["Concordia Age = 1874±16","95% confidence, decay-cont. errors included","MSWD (of concordance) = 0.61","Probability (of concordance) = 0.43"]},
  {"p":"NR-05","b":"i","x":5.5673,"y":0.31314,"lines":["Intercepts at","0 ± 0 & 1878 ± 12 (±13) Ma","MSWD = 0.55"]},
  {"p":"NR-06","b":"a","x":5.1347,"y":0.35068,"lines":["Concordia Age = 1883.9 ±4.8 Ma","(1σ, decay-const. errors included)","MSWD (of concordance) = 0.0048,","Probability(of concordance) = 0.94"]},
  {"p":"NR-06","b":"z","x":5.5384,"y":0.32925,"lines":["Concordant zircon","²⁰⁷Pb/²⁰⁶Pb apparent age = 1899 ± 10","(spot 6.1)"]},
  {"p":"NR-06","b":"i","x":5.5945,"y":0.32193,"lines":["Interceptsat","0\u00a0\u00a00± & 1884.4±8.6 [±10]\u00a0\u00a0Ma","MSWD= 1.15"]},
  {"p":"EC-95","b":"i","x":5.4363,"y":0.19112,"lines":["Intercepts at","0±0 & 1880.5 ± 7.0 (±9.1) Ma","MSWD = 0.80"]},
  {"p":"EC-97","b":"a","x":4.8031,"y":0.37885,"lines":["Concordia Age = 1881.7 ± 4.8 Ma","(1σ, decayconst. errors included)","MSWD\u00a0 (of concordance) = 0.077,","Probability (of concordance) = 0.78"]},
  {"p":"EC-97","b":"z","x":5.7623,"y":0.31455,"lines":["Concordant zircon","²⁰⁷Pb/²⁰⁶Pb apparent age = 1901 ± 12","(spot 2.1)"]},
  {"p":"EC-97","b":"i","x":5.9188,"y":0.28310,"lines":["Intercepts at","0±0 &1877.7± 4.9 [±7.6]\u00a0 Ma","MSWD = 1.16"]},
  {"p":"VC-37","b":"a","x":5.1107,"y":0.41805,"lines":["Concordia Age = 1877± 56","1σ, decay-cont. errors included","MSWD (of concordance) = 0.24","Probability (of concordance) = 0.63"]},
  {"p":"VC-37","b":"i","x":6.4558,"y":0.29898,"lines":["Intercepts at","0±0 & 1878.5 ± 6.9 (±9.0) Ma","MSWD = 1.3"]}
 ],
 "arrows": [
  {"p":"NR-02","x":5.5646,"y":0.32876,"x2":5.5065,"y2":0.33983},
  {"p":"NR-06","x":5.3404,"y":0.34784,"x2":5.3702,"y2":0.33907},
  {"p":"NR-06","x":5.5369,"y":0.33164,"x2":5.5369,"y2":0.34092},
  {"p":"EC-97","x":4.8435,"y":0.35505,"x2":5.3857,"y2":0.34226},
  {"p":"EC-97","x":5.7623,"y":0.3215,"x2":5.5694,"y2":0.34247},
  {"p":"VC-37","x":5.1956,"y":0.38497,"x2":5.4756,"y2":0.35248}
 ],
 "heads": [
  {"p":"NR-06","x":5.5369,"y":0.34092},
  {"p":"EC-97","x":5.5694,"y":0.34247}
 ]
},
"columns": 2,
"spacing": {"row": 97, "column": 150},
"bounds": "flush",
"concat": [
  {
   "width": 530, "height": 444,
   "title": {"text": "Data-point error ellipses are 68.3% conf"},
   "encoding": {
    "x": {"field": "x", "type": "quantitative", "scale": {"domain": [4.8, 5.8], "nice": false, "zero": false}, "axis": {"title": "²⁰⁷Pb/²³⁵U", "values": [4.8,4.9,5.0,5.1,5.2,5.3,5.4,5.5,5.6,5.7,5.8], "labelExpr": "round(datum.value*10)%2==0 ? format(datum.value,'.1f') : ''"}},
    "y": {"field": "y", "type": "quantitative", "scale": {"domain": [0.305, 0.36], "nice": false, "zero": false}, "axis": {"title": "²⁰⁶Pb/²³⁸U", "values": [0.305,0.31,0.315,0.32,0.325,0.33,0.335,0.34,0.345,0.35,0.355,0.36], "labelExpr": "round(datum.value*1000)%10==5 ? format(datum.value,'.3f') : ''"}}
   },
   "layer": [
    {"data": {"name": "disc"}, "transform": [{"filter": "datum.p=='NR-02'"}], "mark": {"type": "line", "stroke": "#444", "strokeWidth": 0.7, "clip": true}},
    {"data": {"name": "ell"}, "transform": [{"filter": "datum.p=='NR-02' && datum.k=='r'"}], "mark": {"type": "line", "interpolate": "cardinal-closed", "tension": -0.66, "stroke": "#d32f2f", "strokeWidth": 1.4, "clip": true}, "encoding": {"detail": {"field": "e"}, "order": {"field": "i"}}},
    {"data": {"name": "conc"}, "transform": [{"filter": "datum.p=='NR-02'"}], "mark": {"type": "line", "interpolate": "monotone", "stroke": "#111", "strokeWidth": 13.5, "clip": true}},
    {"data": {"name": "conc"}, "transform": [{"filter": "datum.p=='NR-02'"}], "mark": {"type": "line", "interpolate": "monotone", "stroke": "white", "strokeWidth": 7.5, "clip": true}},
    {"data": {"name": "conc"}, "transform": [{"filter": "datum.p=='NR-02' && datum.t>=1800 && datum.t<=1940"}], "mark": {"type": "point", "shape": "M -1 0 C -1 -0.25 -0.55 -0.45 0 -0.45 C 0.55 -0.45 1 -0.25 1 0 C 1 0.25 0.55 0.45 0 0.45 C -0.55 0.45 -1 0.25 -1 0 Z", "size": 225, "angle": -28, "filled": true, "fill": "white", "stroke": "#1d2350", "strokeWidth": 1.2, "opacity": 1}},
    {"data": {"name": "ell"}, "transform": [{"filter": "datum.p=='NR-02' && datum.k=='b'"}], "mark": {"type": "line", "interpolate": "cardinal-closed", "tension": -0.66, "stroke": "#111", "strokeWidth": 1.5, "clip": true}, "encoding": {"detail": {"field": "e"}, "order": {"field": "i"}}},
    {"data": {"name": "ell"}, "transform": [{"filter": "datum.p=='NR-02' && datum.k=='f'"}], "mark": {"type": "line", "interpolate": "cardinal-closed", "tension": -0.66, "stroke": "#d42a2c", "fill": "#d42a2c", "strokeWidth": 1, "clip": true}, "encoding": {"detail": {"field": "e"}, "order": {"field": "i"}}},
    {"data": {"name": "ell"}, "transform": [{"filter": "datum.p=='NR-02' && datum.k=='c'"}], "mark": {"type": "line", "interpolate": "cardinal-closed", "tension": -0.66, "stroke": "#5bc4e0", "strokeWidth": 3, "clip": true}, "encoding": {"detail": {"field": "e"}, "order": {"field": "i"}}},
    {"data": {"name": "alab"}, "transform": [{"filter": "datum.p=='NR-02'"}], "mark": {"type": "text", "font": "Liberation Sans", "fontSize": 14.5, "align": "center", "baseline": "middle", "color": "#111"}, "encoding": {"text": {"field": "t", "type": "nominal"}}},
    {"data": {"name": "arrows"}, "transform": [{"filter": "datum.p=='NR-02'"}], "mark": {"type": "rule", "color": "#333", "strokeWidth": 1}, "encoding": {"x2": {"field": "x2"}, "y2": {"field": "y2"}}},
    {"data": {"name": "boxes"}, "transform": [{"filter": "datum.p=='NR-02'"}], "mark": {"type": "rect", "cornerRadius": 12, "fill": "white", "stroke": "#555", "strokeWidth": 1}, "encoding": {"x2": {"field": "x2"}, "y2": {"field": "y2"}}},
    {"data": {"name": "notes"}, "transform": [{"filter": "datum.p=='NR-02' && datum.b=='a'"}], "mark": {"type": "text", "font": "Liberation Serif", "fontSize": 16, "lineHeight": 18.5, "align": "left", "baseline": "alphabetic", "color": "#111"}, "encoding": {"text": {"field": "lines", "type": "nominal"}}},
    {"data": {"name": "notes"}, "transform": [{"filter": "datum.p=='NR-02' && datum.b=='z'"}], "mark": {"type": "text", "font": "Liberation Serif", "fontSize": 15.2, "lineHeight": 17.8, "align": "center", "baseline": "alphabetic", "color": "#111"}, "encoding": {"text": {"field": "lines", "type": "nominal"}}},
    {"data": {"name": "notes"}, "transform": [{"filter": "datum.p=='NR-02' && datum.b=='i'"}], "mark": {"type": "text", "font": "Liberation Serif", "fontSize": 16, "lineHeight": 17.6, "align": "center", "baseline": "alphabetic", "color": "#111"}, "encoding": {"text": {"field": "lines", "type": "nominal"}}},
    {"data": {"name": "plab"}, "transform": [{"filter": "datum.p=='NR-02'"}], "mark": {"type": "text", "font": "Liberation Sans", "fontSize": 30, "align": "left", "baseline": "middle", "color": "#222"}, "encoding": {"text": {"field": "n", "type": "nominal"}}}
   ]
  },
  {
   "width": 542, "height": 444,
   "title": {"text": "Data-point error ellipses are 68.3% conf."},
   "encoding": {
    "x": {"field": "x", "type": "quantitative", "scale": {"domain": [4.2, 6.0], "nice": false, "zero": false}, "axis": {"title": "²⁰⁷Pb/²³⁵U", "values": [4.2,4.4,4.6,4.8,5.0,5.2,5.4,5.6,5.8,6.0], "labelExpr": "round((datum.value-4.2)*10)%4==0 ? format(datum.value,'.1f') : ''"}},
    "y": {"field": "y", "type": "quantitative", "scale": {"domain": [0.30, 0.37], "nice": false, "zero": false}, "axis": {"title": "²⁰⁶Pb/²³⁸U", "values": [0.30,0.31,0.32,0.33,0.34,0.35,0.36,0.37], "labelExpr": "round(datum.value*100)%2==0 ? format(datum.value,'.2f') : ''"}}
   },
   "layer": [
    {"data": {"name": "disc"}, "transform": [{"filter": "datum.p=='NR-05'"}], "mark": {"type": "line", "stroke": "#444", "strokeWidth": 0.7, "clip": true}},
    {"data": {"name": "ell"}, "transform": [{"filter": "datum.p=='NR-05' && datum.k=='r'"}], "mark": {"type": "line", "interpolate": "cardinal-closed", "tension": -0.66, "stroke": "#d32f2f", "strokeWidth": 1.4, "clip": true}, "encoding": {"detail": {"field": "e"}, "order": {"field": "i"}}},
    {"data": {"name": "conc"}, "transform": [{"filter": "datum.p=='NR-05'"}], "mark": {"type": "line", "interpolate": "monotone", "stroke": "#111", "strokeWidth": 8, "clip": true}},
    {"data": {"name": "conc"}, "transform": [{"filter": "datum.p=='NR-05'"}], "mark": {"type": "line", "interpolate": "monotone", "stroke": "white", "strokeWidth": 2.6, "clip": true}},
    {"data": {"name": "ell"}, "transform": [{"filter": "datum.p=='NR-05' && datum.k=='b'"}], "mark": {"type": "line", "interpolate": "cardinal-closed", "tension": -0.66, "stroke": "#111", "strokeWidth": 1.5, "clip": true}, "encoding": {"detail": {"field": "e"}, "order": {"field": "i"}}},
    {"data": {"name": "ell"}, "transform": [{"filter": "datum.p=='NR-05' && datum.k=='c'"}], "mark": {"type": "line", "interpolate": "cardinal-closed", "tension": -0.66, "stroke": "#5bc4e0", "strokeWidth": 3.5, "clip": true}, "encoding": {"detail": {"field": "e"}, "order": {"field": "i"}}},
    {"data": {"name": "alab"}, "transform": [{"filter": "datum.p=='NR-05'"}], "mark": {"type": "text", "font": "Liberation Sans", "fontSize": 14.5, "align": "center", "baseline": "middle", "color": "#111"}, "encoding": {"text": {"field": "t", "type": "nominal"}}},
    {"data": {"name": "boxes"}, "transform": [{"filter": "datum.p=='NR-05'"}], "mark": {"type": "rect", "cornerRadius": 14, "fill": "white", "stroke": "#555", "strokeWidth": 1}, "encoding": {"x2": {"field": "x2"}, "y2": {"field": "y2"}}},
    {"data": {"name": "notes"}, "transform": [{"filter": "datum.p=='NR-05'"}], "mark": {"type": "text", "font": "Liberation Serif", "fontSize": 18.4, "lineHeight": 20.3, "align": "center", "baseline": "alphabetic", "color": "#111"}, "encoding": {"text": {"field": "lines", "type": "nominal"}}},
    {"data": {"name": "plab"}, "transform": [{"filter": "datum.p=='NR-05'"}], "mark": {"type": "text", "font": "Liberation Sans", "fontSize": 30, "align": "left", "baseline": "middle", "color": "#222"}, "encoding": {"text": {"field": "n", "type": "nominal"}}}
   ]
  },
  {
   "width": 530, "height": 444,
   "title": {"text": "Data-point error ellipses are 68.3% conf."},
   "encoding": {
    "x": {"field": "x", "type": "quantitative", "scale": {"domain": [4.9, 5.8], "nice": false, "zero": false}, "axis": {"title": "²⁰⁷Pb/²³⁵U", "values": [4.9,5.0,5.1,5.2,5.3,5.4,5.5,5.6,5.7,5.8], "labelExpr": "round(datum.value*10)%2==1 ? format(datum.value,'.1f') : ''"}},
    "y": {"field": "y", "type": "quantitative", "scale": {"domain": [0.315, 0.36], "nice": false, "zero": false}, "axis": {"title": "²⁰⁶Pb/²³⁸U", "values": [0.315,0.32,0.325,0.33,0.335,0.34,0.345,0.35,0.355,0.36], "labelExpr": "round(datum.value*1000)%10==5 ? format(datum.value,'.3f') : ''"}}
   },
   "layer": [
    {"data": {"name": "disc"}, "transform": [{"filter": "datum.p=='NR-06'"}], "mark": {"type": "line", "stroke": "#444", "strokeWidth": 0.7, "clip": true}},
    {"data": {"name": "ell"}, "transform": [{"filter": "datum.p=='NR-06' && datum.k=='r'"}], "mark": {"type": "line", "interpolate": "cardinal-closed", "tension": -0.66, "stroke": "#d32f2f", "strokeWidth": 1.4, "clip": true}, "encoding": {"detail": {"field": "e"}, "order": {"field": "i"}}},
    {"data": {"name": "conc"}, "transform": [{"filter": "datum.p=='NR-06'"}], "mark": {"type": "line", "interpolate": "monotone", "stroke": "#111", "strokeWidth": 14.5, "clip": true}},
    {"data": {"name": "conc"}, "transform": [{"filter": "datum.p=='NR-06'"}], "mark": {"type": "line", "interpolate": "monotone", "stroke": "white", "strokeWidth": 8.5, "clip": true}},
    {"data": {"name": "conc"}, "transform": [{"filter": "datum.p=='NR-06' && datum.t>=1820 && datum.t<=1940"}], "mark": {"type": "point", "shape": "M -1 0 C -1 -0.28 -0.55 -0.5 0 -0.5 C 0.55 -0.5 1 -0.28 1 0 C 1 0.28 0.55 0.5 0 0.5 C -0.55 0.5 -1 0.28 -1 0 Z", "size": 324, "angle": -29, "filled": true, "fill": "white", "stroke": "#111", "strokeWidth": 1.6, "opacity": 1}},
    {"data": {"name": "ell"}, "transform": [{"filter": "datum.p=='NR-06' && datum.k=='b'"}], "mark": {"type": "line", "interpolate": "cardinal-closed", "tension": -0.66, "stroke": "#111", "strokeWidth": 1.6, "clip": true}, "encoding": {"detail": {"field": "e"}, "order": {"field": "i"}}},
    {"data": {"name": "ell"}, "transform": [{"filter": "datum.p=='NR-06' && datum.k=='f'"}], "mark": {"type": "line", "interpolate": "cardinal-closed", "tension": -0.66, "stroke": "#a0522d", "fill": "#d42a2c", "strokeWidth": 1, "clip": true}, "encoding": {"detail": {"field": "e"}, "order": {"field": "i"}}},
    {"data": {"name": "ell"}, "transform": [{"filter": "datum.p=='NR-06' && datum.k=='c'"}], "mark": {"type": "line", "interpolate": "cardinal-closed", "tension": -0.66, "stroke": "#5bc4e0", "strokeWidth": 3, "clip": true}, "encoding": {"detail": {"field": "e"}, "order": {"field": "i"}}},
    {"data": {"name": "alab"}, "transform": [{"filter": "datum.p=='NR-06'"}], "mark": {"type": "text", "font": "Liberation Sans", "fontSize": 14.5, "align": "center", "baseline": "middle", "color": "#111"}, "encoding": {"text": {"field": "t", "type": "nominal"}}},
    {"data": {"name": "arrows"}, "transform": [{"filter": "datum.p=='NR-06'"}], "mark": {"type": "rule", "color": "#333", "strokeWidth": 1}, "encoding": {"x2": {"field": "x2"}, "y2": {"field": "y2"}}},
    {"data": {"name": "heads"}, "transform": [{"filter": "datum.p=='NR-06'"}], "mark": {"type": "point", "shape": "M -1 1 L 0 0 L 1 1", "size": 110, "angle": 0, "filled": false, "color": "#333", "strokeWidth": 1.4, "opacity": 1}},
    {"data": {"name": "boxes"}, "transform": [{"filter": "datum.p=='NR-06'"}], "mark": {"type": "rect", "cornerRadius": 12, "fill": "white", "stroke": "#555", "strokeWidth": 1}, "encoding": {"x2": {"field": "x2"}, "y2": {"field": "y2"}}},
    {"data": {"name": "notes"}, "transform": [{"filter": "datum.p=='NR-06'"}], "mark": {"type": "text", "font": "Liberation Serif", "fontSize": 16.2, "lineHeight": 18.6, "align": "center", "baseline": "alphabetic", "color": "#111"}, "encoding": {"text": {"field": "lines", "type": "nominal"}}},
    {"data": {"name": "plab"}, "transform": [{"filter": "datum.p=='NR-06'"}], "mark": {"type": "text", "font": "Liberation Sans", "fontSize": 30, "align": "left", "baseline": "middle", "color": "#222"}, "encoding": {"text": {"field": "n", "type": "nominal"}}}
   ]
  },
  {
   "width": 542, "height": 444,
   "title": {"text": "Data-point error ellipses are 68.3% conf."},
   "encoding": {
    "x": {"field": "x", "type": "quantitative", "scale": {"domain": [1, 7], "nice": false, "zero": false}, "axis": {"title": "²⁰⁷Pb/²³⁵U", "values": [1,1.5,2,2.5,3,3.5,4,4.5,5,5.5,6,6.5,7], "labelExpr": "round(datum.value*2)%2==0 ? format(datum.value,'d') : ''"}},
    "y": {"field": "y", "type": "quantitative", "scale": {"domain": [0.14, 0.40], "nice": false, "zero": false}, "axis": {"title": "²⁰⁶Pb/²³⁸U", "values": [0.14,0.16,0.18,0.20,0.22,0.24,0.26,0.28,0.30,0.32,0.34,0.36,0.38,0.40], "labelExpr": "round(datum.value*100)%4==2 ? format(datum.value,'.2f') : ''"}}
   },
   "layer": [
    {"data": {"name": "disc"}, "transform": [{"filter": "datum.p=='EC-95'"}], "mark": {"type": "line", "stroke": "#444", "strokeWidth": 0.7, "clip": true}},
    {"data": {"name": "ell"}, "transform": [{"filter": "datum.p=='EC-95' && datum.k=='b'"}], "mark": {"type": "line", "interpolate": "cardinal-closed", "tension": -0.66, "stroke": "#111", "strokeWidth": 1.5, "clip": true}, "encoding": {"detail": {"field": "e"}, "order": {"field": "i"}}},
    {"data": {"name": "conc"}, "transform": [{"filter": "datum.p=='EC-95'"}], "mark": {"type": "line", "interpolate": "monotone", "stroke": "#222", "strokeWidth": 2.6, "clip": true}},
    {"data": {"name": "conc"}, "transform": [{"filter": "datum.p=='EC-95' && datum.t>=900 && datum.t<=2100"}], "mark": {"type": "point", "shape": "circle", "size": 72, "filled": true, "fill": "white", "stroke": "#222", "strokeWidth": 1.2, "opacity": 1}},
    {"data": {"name": "alab"}, "transform": [{"filter": "datum.p=='EC-95'"}], "mark": {"type": "text", "font": "Liberation Sans", "fontSize": 14.5, "align": "center", "baseline": "middle", "color": "#111"}, "encoding": {"text": {"field": "t", "type": "nominal"}}},
    {"data": {"name": "boxes"}, "transform": [{"filter": "datum.p=='EC-95'"}], "mark": {"type": "rect", "cornerRadius": 14, "fill": "white", "stroke": "#555", "strokeWidth": 1}, "encoding": {"x2": {"field": "x2"}, "y2": {"field": "y2"}}},
    {"data": {"name": "notes"}, "transform": [{"filter": "datum.p=='EC-95'"}], "mark": {"type": "text", "font": "Liberation Serif", "fontSize": 18.5, "lineHeight": 20.3, "align": "center", "baseline": "alphabetic", "color": "#111"}, "encoding": {"text": {"field": "lines", "type": "nominal"}}},
    {"data": {"name": "plab"}, "transform": [{"filter": "datum.p=='EC-95'"}], "mark": {"type": "text", "font": "Liberation Sans", "fontSize": 30, "align": "left", "baseline": "middle", "color": "#222"}, "encoding": {"text": {"field": "n", "type": "nominal"}}}
   ]
  },
  {
   "width": 530, "height": 430,
   "title": {"text": "Data-point error ellipses are 68.3% conf."},
   "encoding": {
    "x": {"field": "x", "type": "quantitative", "scale": {"domain": [4.2, 6.4], "nice": false, "zero": false}, "axis": {"title": "²⁰⁷Pb/²³⁵U", "values": [4.2,4.4,4.6,4.8,5.0,5.2,5.4,5.6,5.8,6.0,6.2,6.4], "labelExpr": "round((datum.value-4.2)*10)%4==0 ? format(datum.value,'.1f') : ''"}},
    "y": {"field": "y", "type": "quantitative", "scale": {"domain": [0.26, 0.41], "nice": false, "zero": false}, "axis": {"title": "²⁰⁶Pb/²³⁸U", "values": [0.26,0.27,0.28,0.29,0.30,0.31,0.32,0.33,0.34,0.35,0.36,0.37,0.38,0.39,0.40,0.41], "labelExpr": "round(datum.value*100)%2==0 ? format(datum.value,'.2f') : ''"}}
   },
   "layer": [
    {"data": {"name": "disc"}, "transform": [{"filter": "datum.p=='EC-97'"}], "mark": {"type": "line", "stroke": "#444", "strokeWidth": 0.7, "clip": true}},
    {"data": {"name": "conc"}, "transform": [{"filter": "datum.p=='EC-97'"}], "mark": {"type": "line", "interpolate": "monotone", "stroke": "#2b2b2b", "strokeWidth": 7, "clip": true}},
    {"data": {"name": "conc"}, "transform": [{"filter": "datum.p=='EC-97'"}], "mark": {"type": "line", "interpolate": "monotone", "stroke": "#8a8a8a", "strokeWidth": 1.2, "clip": true}},
    {"data": {"name": "ell"}, "transform": [{"filter": "datum.p=='EC-97' && datum.k=='b'"}], "mark": {"type": "line", "interpolate": "cardinal-closed", "tension": -0.66, "stroke": "#111", "strokeWidth": 1.6, "clip": true}, "encoding": {"detail": {"field": "e"}, "order": {"field": "i"}}},
    {"data": {"name": "ell"}, "transform": [{"filter": "datum.p=='EC-97' && datum.k=='r'"}], "mark": {"type": "line", "interpolate": "cardinal-closed", "tension": -0.66, "stroke": "#d32f2f", "strokeWidth": 1.4, "clip": true}, "encoding": {"detail": {"field": "e"}, "order": {"field": "i"}}},
    {"data": {"name": "ell"}, "transform": [{"filter": "datum.p=='EC-97' && datum.k=='f'"}], "mark": {"type": "line", "interpolate": "cardinal-closed", "tension": -0.66, "stroke": "#d42a2c", "fill": "#d42a2c", "strokeWidth": 1, "clip": true}, "encoding": {"detail": {"field": "e"}, "order": {"field": "i"}}},
    {"data": {"name": "ell"}, "transform": [{"filter": "datum.p=='EC-97' && datum.k=='c'"}], "mark": {"type": "line", "interpolate": "cardinal-closed", "tension": -0.66, "stroke": "#5bc4e0", "strokeWidth": 3, "clip": true}, "encoding": {"detail": {"field": "e"}, "order": {"field": "i"}}},
    {"data": {"name": "alab"}, "transform": [{"filter": "datum.p=='EC-97'"}], "mark": {"type": "text", "font": "Liberation Sans", "fontSize": 14.5, "align": "center", "baseline": "middle", "color": "#111"}, "encoding": {"text": {"field": "t", "type": "nominal"}}},
    {"data": {"name": "arrows"}, "transform": [{"filter": "datum.p=='EC-97'"}], "mark": {"type": "rule", "color": "#333", "strokeWidth": 1}, "encoding": {"x2": {"field": "x2"}, "y2": {"field": "y2"}}},
    {"data": {"name": "heads"}, "transform": [{"filter": "datum.p=='EC-97'"}], "mark": {"type": "point", "shape": "M -1 1 L 0 0 L 1 1", "size": 110, "angle": -37.6, "filled": false, "color": "#333", "strokeWidth": 1.4, "opacity": 1}},
    {"data": {"name": "boxes"}, "transform": [{"filter": "datum.p=='EC-97'"}], "mark": {"type": "rect", "cornerRadius": 14, "fill": "white", "stroke": "#555", "strokeWidth": 1}, "encoding": {"x2": {"field": "x2"}, "y2": {"field": "y2"}}},
    {"data": {"name": "notes"}, "transform": [{"filter": "datum.p=='EC-97' && datum.b!='z'"}], "mark": {"type": "text", "font": "Liberation Serif", "fontSize": 16.1, "lineHeight": 18.5, "align": "center", "baseline": "alphabetic", "color": "#111"}, "encoding": {"text": {"field": "lines", "type": "nominal"}}},
    {"data": {"name": "notes"}, "transform": [{"filter": "datum.p=='EC-97' && datum.b=='z'"}], "mark": {"type": "text", "font": "Liberation Serif", "fontSize": 18, "lineHeight": 20.3, "align": "center", "baseline": "alphabetic", "color": "#111"}, "encoding": {"text": {"field": "lines", "type": "nominal"}}},
    {"data": {"name": "plab"}, "transform": [{"filter": "datum.p=='EC-97'"}], "mark": {"type": "text", "font": "Liberation Sans", "fontSize": 30, "align": "left", "baseline": "middle", "color": "#222"}, "encoding": {"text": {"field": "n", "type": "nominal"}}}
   ]
  },
  {
   "width": 542, "height": 430,
   "title": {"text": "Data-point error ellipses are 68.3% conf."},
   "encoding": {
    "x": {"field": "x", "type": "quantitative", "scale": {"domain": [4.2, 7.2], "nice": false, "zero": false}, "axis": {"title": "²⁰⁷Pb/²³⁵U", "values": [4.2,4.4,4.6,4.8,5.0,5.2,5.4,5.6,5.8,6.0,6.2,6.4,6.6,6.8,7.0,7.2], "labelExpr": "round((datum.value-4.2)*10)%4==0 ? format(datum.value,'.1f') : ''"}},
    "y": {"field": "y", "type": "quantitative", "scale": {"domain": [0.26, 0.46], "nice": false, "zero": false}, "axis": {"title": "²⁰⁶Pb/²³⁸U", "values": [0.26,0.28,0.30,0.32,0.34,0.36,0.38,0.40,0.42,0.44,0.46], "labelExpr": "round(datum.value*100)%4==2 ? format(datum.value,'.2f') : ''"}}
   },
   "layer": [
    {"data": {"name": "disc"}, "transform": [{"filter": "datum.p=='VC-37'"}], "mark": {"type": "line", "stroke": "#444", "strokeWidth": 0.7, "clip": true}},
    {"data": {"name": "conc"}, "transform": [{"filter": "datum.p=='VC-37'"}], "mark": {"type": "line", "interpolate": "monotone", "stroke": "#1e1e1e", "strokeWidth": 8, "clip": true}},
    {"data": {"name": "conc"}, "transform": [{"filter": "datum.p=='VC-37'"}], "mark": {"type": "line", "interpolate": "monotone", "stroke": "#4a4a4a", "strokeWidth": 1.5, "clip": true}},
    {"data": {"name": "ell"}, "transform": [{"filter": "datum.p=='VC-37' && datum.k=='b'"}], "mark": {"type": "line", "interpolate": "cardinal-closed", "tension": -0.66, "stroke": "#111", "strokeWidth": 1.6, "clip": true}, "encoding": {"detail": {"field": "e"}, "order": {"field": "i"}}},
    {"data": {"name": "ell"}, "transform": [{"filter": "datum.p=='VC-37' && datum.k=='r'"}], "mark": {"type": "line", "interpolate": "cardinal-closed", "tension": -0.66, "stroke": "#d32f2f", "strokeWidth": 1.4, "clip": true}, "encoding": {"detail": {"field": "e"}, "order": {"field": "i"}}},
    {"data": {"name": "ell"}, "transform": [{"filter": "datum.p=='VC-37' && datum.k=='c'"}], "mark": {"type": "line", "interpolate": "cardinal-closed", "tension": -0.66, "stroke": "#5bc4e0", "strokeWidth": 2.5, "clip": true}, "encoding": {"detail": {"field": "e"}, "order": {"field": "i"}}},
    {"data": {"name": "alab"}, "transform": [{"filter": "datum.p=='VC-37'"}], "mark": {"type": "text", "font": "Liberation Sans", "fontSize": 14.5, "align": "center", "baseline": "middle", "color": "#111"}, "encoding": {"text": {"field": "t", "type": "nominal"}}},
    {"data": {"name": "arrows"}, "transform": [{"filter": "datum.p=='VC-37'"}], "mark": {"type": "rule", "color": "#333", "strokeWidth": 1}, "encoding": {"x2": {"field": "x2"}, "y2": {"field": "y2"}}},
    {"data": {"name": "boxes"}, "transform": [{"filter": "datum.p=='VC-37'"}], "mark": {"type": "rect", "cornerRadius": 14, "fill": "white", "stroke": "#555", "strokeWidth": 1}, "encoding": {"x2": {"field": "x2"}, "y2": {"field": "y2"}}},
    {"data": {"name": "notes"}, "transform": [{"filter": "datum.p=='VC-37' && datum.b=='a'"}], "mark": {"type": "text", "font": "Liberation Serif", "fontSize": 18.4, "lineHeight": 19.9, "align": "center", "baseline": "alphabetic", "color": "#111"}, "encoding": {"text": {"field": "lines", "type": "nominal"}}},
    {"data": {"name": "notes"}, "transform": [{"filter": "datum.p=='VC-37' && datum.b=='i'"}], "mark": {"type": "text", "font": "Liberation Serif", "fontSize": 16.2, "lineHeight": 17.5, "align": "center", "baseline": "alphabetic", "color": "#111"}, "encoding": {"text": {"field": "lines", "type": "nominal"}}},
    {"data": {"name": "plab"}, "transform": [{"filter": "datum.p=='VC-37'"}], "mark": {"type": "text", "font": "Liberation Sans", "fontSize": 30, "align": "left", "baseline": "middle", "color": "#222"}, "encoding": {"text": {"field": "n", "type": "nominal"}}}
   ]
  }
]
}
